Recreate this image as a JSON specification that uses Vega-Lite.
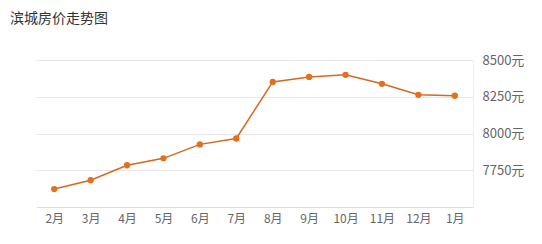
{
  "$schema": "https://vega.github.io/schema/vega-lite/v6.json",
  "autosize": {"type": "none"},
  "width": 437,
  "height": 147,
  "padding": {"left": 36, "top": 60, "right": 69, "bottom": 37},
  "background": "white",
  "title": {
    "text": "滨城房价走势图",
    "anchor": "start",
    "frame": "group",
    "dx": -26,
    "offset": 28,
    "font": "Noto Sans CJK SC",
    "fontSize": 14,
    "fontWeight": "normal",
    "color": "#333333"
  },
  "config": {
    "view": {"stroke": null},
    "font": "Noto Sans CJK SC"
  },
  "data": {
    "values": [
      {"month": "2月", "price": 7622},
      {"month": "3月", "price": 7682},
      {"month": "4月", "price": 7784},
      {"month": "5月", "price": 7831},
      {"month": "6月", "price": 7926},
      {"month": "7月", "price": 7966},
      {"month": "8月", "price": 8351},
      {"month": "9月", "price": 8385},
      {"month": "10月", "price": 8399},
      {"month": "11月", "price": 8338},
      {"month": "12月", "price": 8263},
      {"month": "1月", "price": 8257}
    ]
  },
  "encoding": {
    "x": {
      "field": "month",
      "type": "ordinal",
      "sort": null,
      "scale": {"type": "point", "padding": 0.5},
      "axis": {
        "title": null,
        "labelAngle": 0,
        "labelFontSize": 12,
        "labelColor": "#666666",
        "labelPadding": 6,
        "ticks": false,
        "domainColor": "#dddddd",
        "grid": false
      }
    },
    "y": {
      "field": "price",
      "type": "quantitative",
      "scale": {"domain": [7500, 8500], "zero": false, "nice": false},
      "axis": {
        "orient": "right",
        "title": null,
        "values": [7750, 8000, 8250, 8500],
        "labelExpr": "datum.value + '元'",
        "labelFontSize": 13,
        "labelColor": "#666666",
        "labelPadding": 9,
        "ticks": false,
        "domainColor": "#eeeeee",
        "gridColor": "#e6e6e6"
      }
    }
  },
  "layer": [
    {"mark": {"type": "line", "color": "#d4691f", "strokeWidth": 1.5}},
    {"mark": {"type": "point", "filled": true, "color": "#e2701e", "size": 40, "opacity": 1}}
  ]
}
